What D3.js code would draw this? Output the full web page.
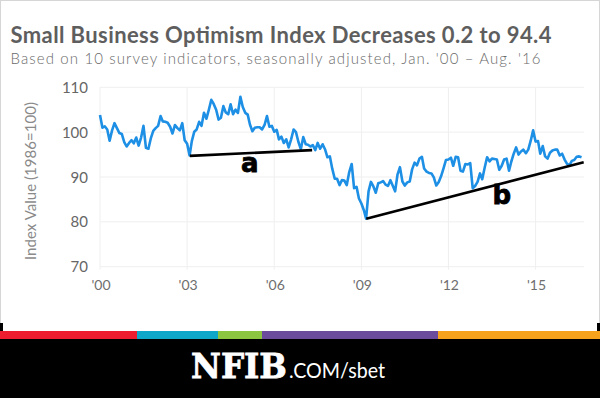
<!DOCTYPE html>
<html>
<head>
<meta charset="utf-8">
<script src="https://cdn.jsdelivr.net/npm/d3@7.9.0/dist/d3.min.js"></script>
<style>
  html, body { margin: 0; padding: 0; background: #fff; }
  svg { display: block; }
</style>
</head>
<body>
<div id="chart"></div>
<script>
// Small Business Optimism Index, monthly, seasonally adjusted (1986=100)
const values2000 = [103.8, 101.0, 101.3, 100.6, 98.1, 100.4, 102.0, 100.9, 99.8, 99.6, 97.8, 96.8];
const values2001 = [97.6, 98.2, 97.5, 98.8, 97.0, 98.8, 101.4, 96.5, 96.3, 98.6, 100.3, 100.9];
const values2002 = [101.4, 103.6, 102.4, 102.3, 102.1, 101.2, 99.7, 101.6, 100.9, 100.4, 102.0, 98.2];
const values2003 = [97.4, 94.8, 98.0, 100.1, 100.6, 102.3, 101.4, 104.3, 103.0, 105.0, 107.2, 106.3];
const values2004 = [105.0, 102.8, 103.2, 105.8, 104.4, 104.0, 106.2, 104.0, 105.0, 104.3, 107.9, 105.6];
const values2005 = [104.3, 103.9, 101.7, 100.2, 101.0, 101.1, 101.1, 100.6, 101.6, 103.6, 101.2, 101.4];
const values2006 = [100.1, 100.5, 98.4, 99.0, 97.6, 98.4, 96.6, 98.4, 100.6, 100.0, 97.8, 96.2];
const values2007 = [98.9, 97.3, 97.2, 96.8, 97.1, 96.0, 97.6, 96.3, 97.3, 96.2, 94.4, 94.6];
const values2008 = [91.8, 89.6, 89.6, 88.2, 89.3, 89.2, 88.2, 91.1, 92.9, 87.5, 87.8, 85.2];
const values2009 = [84.1, 82.6, 80.7, 86.8, 88.9, 87.9, 86.5, 88.6, 88.8, 89.1, 88.3, 88.0];
const values2010 = [89.3, 88.0, 86.8, 90.6, 92.2, 89.0, 88.1, 88.8, 89.0, 91.7, 93.2, 92.6];
const values2011 = [94.1, 94.5, 91.9, 91.2, 90.9, 90.8, 89.9, 88.1, 88.9, 90.2, 92.0, 93.8];
const values2012 = [93.9, 94.3, 92.5, 94.5, 94.4, 91.4, 91.2, 92.9, 92.8, 93.1, 87.5, 88.0];
const values2013 = [88.9, 90.8, 89.5, 92.1, 94.4, 93.5, 94.1, 94.0, 93.9, 91.6, 92.5, 93.9];
const values2014 = [94.1, 91.4, 93.4, 95.2, 96.6, 95.0, 95.7, 96.1, 95.3, 96.1, 98.1, 100.4];
const values2015 = [97.9, 98.0, 95.2, 96.9, 94.6, 94.1, 95.4, 95.9, 96.1, 96.1, 94.8, 95.2];
const values2016 = [93.9, 92.9, 92.6, 93.6, 93.8, 94.5, 94.6, 94.4];

const yearlyValues = [values2000, values2001, values2002, values2003, values2004, values2005,
  values2006, values2007, values2008, values2009, values2010, values2011, values2012,
  values2013, values2014, values2015, values2016];

const xTickYears = [2000, 2003, 2006, 2009, 2012, 2015];
const xTickLabels = ["'00", "'03", "'06", "'09", "'12", "'15"];
const yTicks = [70, 80, 90, 100, 110];

// trend lines drawn on the chart: [date, value] pairs
const trendA = [[new Date(2003, 1, 4), 94.7], [new Date(2007, 3, 22), 96.0]];
const trendB = [[new Date(2009, 2, 3), 80.7], [new Date(2016, 7, 28), 93.3]];
const trendLabels = [
  { text: 'a', date: new Date(2005, 1, 28), value: 91.2 },
  { text: 'b', date: new Date(2013, 10, 1), value: 84.0 },
];

const titleText = 'Small Business Optimism Index Decreases 0.2 to 94.4';
const subtitleText = "Based on 10 survey indicators, seasonally adjusted, Jan. '00 \u2013 Aug. '16";

const series = yearlyValues.flatMap((vals, i) =>
  vals.map((v, m) => ({ date: new Date(2000 + i, m, 1), value: v }))
);

const width = 600;
const height = 398;

const svg = d3
  .select('#chart')
  .append('svg')
  .attr('width', width)
  .attr('height', height)
  .attr('viewBox', `0 0 ${width} ${height}`);

const font = "'Lato', 'Open Sans', sans-serif";

// outer light frame
svg.append('rect')
  .attr('x', 0.5).attr('y', 0.5)
  .attr('width', width - 1).attr('height', 332)
  .attr('fill', '#fff')
  .attr('stroke', '#d6d6d6');

svg.append('rect').attr('x', 0).attr('y', 323).attr('width', 3).attr('height', 9).attr('fill', '#000');
svg.append('rect').attr('x', 597).attr('y', 323).attr('width', 3).attr('height', 9).attr('fill', '#000');

// titles
svg.append('text')
  .attr('x', 10.5).attr('y', 43)
  .attr('font-family', font).attr('font-weight', 700).attr('font-size', 22)
  .attr('fill', '#5e5e5e')
  .attr('textLength', 541)
  .text(titleText);

svg.append('text')
  .attr('x', 10.5).attr('y', 64)
  .attr('font-family', font).attr('font-weight', 300).attr('font-size', 15)
  .attr('fill', '#6a6a6a')
  .attr('textLength', 530)
  .text(subtitleText);

const margin = { top: 87.3, right: 16, bottom: 131.3, left: 100 };

const x = d3.scaleTime()
  .domain([new Date(2000, 0, 1), new Date(2016, 8, 1)])
  .range([margin.left, width - margin.right]);

const y = d3.scaleLinear()
  .domain([70, 110])
  .range([height - margin.bottom, margin.top]);

// gridlines
const grid = svg.append('g').attr('class', 'gridlines');
grid.selectAll('line.h')
  .data(yTicks)
  .join('line')
  .attr('class', 'h')
  .attr('x1', x.range()[0]).attr('x2', x.range()[1])
  .attr('y1', (d) => y(d)).attr('y2', (d) => y(d))
  .attr('stroke', '#efefef').attr('stroke-width', 1);

grid.selectAll('line.v')
  .data(xTickYears)
  .join('line')
  .attr('class', 'v')
  .attr('x1', (d) => x(new Date(d, 0, 1))).attr('x2', (d) => x(new Date(d, 0, 1)))
  .attr('y1', y(110)).attr('y2', y(70) + 3)
  .attr('stroke', '#efefef').attr('stroke-width', 1);

// axes labels
svg.append('g')
  .selectAll('text')
  .data(yTicks)
  .join('text')
  .attr('x', 88).attr('y', (d) => y(d) + 5.5)
  .attr('text-anchor', 'end')
  .attr('font-family', font).attr('font-size', 15)
  .attr('fill', '#666')
  .text((d) => d);

svg.append('g')
  .selectAll('text')
  .data(xTickYears)
  .join('text')
  .attr('x', (d) => x(new Date(d, 0, 1)) + 1)
  .attr('y', 290)
  .attr('text-anchor', 'middle')
  .attr('font-family', font).attr('font-size', 14)
  .attr('fill', '#6e6e6e')
  .text((d, i) => xTickLabels[i]);

svg.append('text')
  .attr('transform', 'translate(36,181) rotate(-90)')
  .attr('text-anchor', 'middle')
  .attr('font-family', font).attr('font-size', 15)
  .attr('fill', '#8a8a8a')
  .attr('textLength', 158)
  .text('Index Value (1986=100)');

// data line
const line = d3.line()
  .x((d) => x(d.date))
  .y((d) => y(d.value));

svg.append('path')
  .datum(series)
  .attr('d', line)
  .attr('fill', 'none')
  .attr('stroke', '#1d8fe5')
  .attr('stroke-width', 2.6)
  .attr('stroke-linejoin', 'round');

// trend lines
const trendLine = d3.line()
  .x((d) => x(d[0]))
  .y((d) => y(d[1]));

svg.append('g')
  .selectAll('path')
  .data([trendA, trendB])
  .join('path')
  .attr('d', trendLine)
  .attr('fill', 'none')
  .attr('stroke', '#000')
  .attr('stroke-width', 2.6);

svg.append('g')
  .selectAll('text')
  .data(trendLabels)
  .join('text')
  .attr('x', (d) => x(d.date))
  .attr('y', (d) => y(d.value))
  .attr('text-anchor', 'middle')
  .attr('font-family', "'DejaVu Sans', sans-serif")
  .attr('font-weight', 700)
  .attr('font-size', 26)
  .attr('fill', '#000')
  .attr('stroke', '#000')
  .attr('stroke-width', 0.8)
  .text((d) => d.text);

// footer
const footerBands = [
  { x0: 0, x1: 137, color: '#ed1c2e' },
  { x0: 137, x1: 218, color: '#0fa7c9' },
  { x0: 218, x1: 262, color: '#8cc540' },
  { x0: 262, x1: 438, color: '#6a4b9c' },
  { x0: 438, x1: 600, color: '#f7a21d' },
];

svg.append('rect')
  .attr('x', 0).attr('y', 339)
  .attr('width', width).attr('height', height - 339)
  .attr('fill', '#000');

svg.append('g')
  .selectAll('rect')
  .data(footerBands)
  .join('rect')
  .attr('x', (d) => d.x0).attr('y', 331)
  .attr('width', (d) => d.x1 - d.x0).attr('height', 8)
  .attr('fill', (d) => d.color);

svg.append('text')
  .attr('x', 191).attr('y', 378)
  .attr('font-family', "'DejaVu Serif', serif")
  .attr('font-weight', 900)
  .attr('font-size', 34)
  .attr('fill', '#fff')
  .attr('stroke', '#fff')
  .attr('stroke-width', 0.8)
  .attr('textLength', 96)
  .attr('lengthAdjust', 'spacingAndGlyphs')
  .text('NFIB');

svg.append('text')
  .attr('x', 289).attr('y', 378)
  .attr('font-family', font)
  .attr('font-size', 22)
  .attr('fill', '#fff')
  .attr('textLength', 96)
  .attr('lengthAdjust', 'spacingAndGlyphs')
  .text('.COM/sbet');
</script>
</body>
</html>
